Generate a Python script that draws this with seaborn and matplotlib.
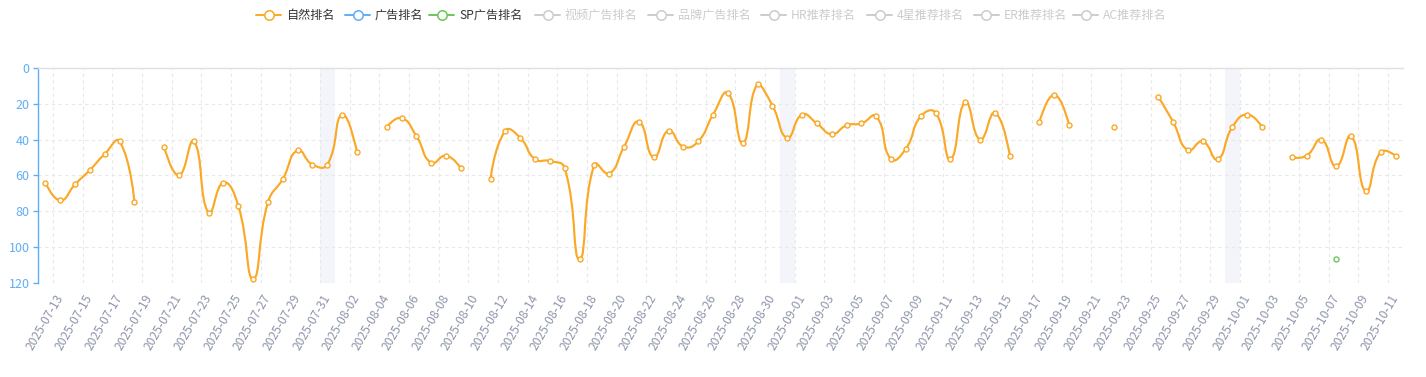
import numpy as np
import pandas as pd
import matplotlib
matplotlib.use("Agg")
import matplotlib.pyplot as plt
from matplotlib.path import Path
from matplotlib.patches import PathPatch
from matplotlib.lines import Line2D
import seaborn as sns

# ---------------- data ----------------
dates = pd.date_range("2025-07-12", "2025-10-11", freq="D").strftime("%Y-%m-%d").tolist()

natural_rank = [64, 74, 65, 57, 48, 41, 75, None,
                44, 60, 41, 81, 64, 77, 118, 75, 62, 46, 54, 54, 26, 47, None,
                33, 28, 38, 53, 49, 56, None,
                62, 35, 39, 51, 52, 56, 107, 54, 59, 44, 30, 50, 35, 44, 41, 26, 14, 42, 9, 21,
                39, 26, 31, 37, 32, 31, 27, 51, 45, 27, 25, 51, 19, 40, 25, 49, None,
                30, 15, 32, None, None, 33, None, None,
                16, 30, 46, 41, 51, 33, 26, 33, None,
                50, 49, 40, 55, 38, 69, 47, 49]

sp_dates = ["2025-10-07"]
sp_rank = [107]

band_dates = ["2025-07-31", "2025-08-31", "2025-09-30"]

legend_names = ["自然排名", "广告排名", "SP广告排名", "视频广告排名", "品牌广告排名",
                "HR推荐排名", "4星推荐排名", "ER推荐排名", "AC推荐排名"]
legend_active = [True, True, True, False, False, False, False, False, False]

y_ticks = [0, 20, 40, 60, 80, 100, 120]

# ---------------- style ----------------
ORANGE = "#fba826"
BLUE = "#5eaef5"
GREEN = "#6cc65a"
GREY = "#cccccc"
GRID = "#e8e8e8"
XLAB = "#8e95aa"

sns.set_theme(style="white")
plt.rcParams["font.family"] = ["Noto Sans CJK SC", "DejaVu Sans"]

W, H = 1426, 377
fig = plt.figure(figsize=(W / 100, H / 100), dpi=100)
left, right, top, bottom = 38, 1403, 68, 282.7
ax = fig.add_axes([left / W, 1 - bottom / H, (right - left) / W, (bottom - top) / H])

n = len(dates)
ax.set_xlim(-0.5, n - 0.5)
ax.set_ylim(y_ticks[-1], y_ticks[0])

sx = (right - left) / n
sy = (bottom - top) / (y_ticks[-1] - y_ticks[0])

# bands
for d in band_dates:
    i = dates.index(d)
    ax.axvspan(i - 0.5, i + 0.5, color="#f3f5fa", zorder=0, lw=0)

# grid
for yv in y_ticks[1:]:
    ax.axhline(yv, color=GRID, lw=0.8, ls=(0, (3, 3)), zorder=1)
for k in list(range(1, n, 2)) + [n]:
    ax.axvline(k - 0.5, color=GRID, lw=0.8, ls=(0, (3, 3)), zorder=1)


def echarts_smooth(xs, ys, bbox, smooth=0.5):
    P = np.column_stack([np.asarray(xs, float) * sx, np.asarray(ys, float) * sy])
    lo = np.array([bbox[0] * sx, bbox[2] * sy])
    hi = np.array([bbox[1] * sx, bbox[3] * sy])
    m = len(P)
    verts = [P[0]]
    codes = [Path.MOVETO]
    cp0 = P[0].copy()
    for i in range(1, m):
        p = P[i]
        prev = P[i - 1]
        v = None
        if i == m - 1:
            ncp = p.copy()
        else:
            nxt = P[i + 1]
            v = nxt - prev
            d0 = np.linalg.norm(p - prev)
            d1 = np.linalg.norm(p - nxt)
            r = d1 / (d0 + d1) if (d0 + d1) > 0 else 0.5
            ncp = p - v * smooth * (1 - r)
        verts += [np.clip(cp0, lo, hi), np.clip(ncp, lo, hi), p]
        codes += [Path.CURVE4] * 3
        if v is not None:
            cp0 = p + v * smooth * r
    verts = np.array(verts) / np.array([sx, sy])
    return Path(verts, codes)


df = pd.DataFrame({"idx": np.arange(n), "date": dates, "rank": natural_rank})
valid = df.dropna()
bbox = (valid["idx"].min(), valid["idx"].max(), valid["rank"].min(), valid["rank"].max())


def draw_segment(seg):
    if len(seg) > 1:
        path = echarts_smooth([s[0] for s in seg], [s[1] for s in seg], bbox)
        ax.add_patch(PathPatch(path, fc="none", ec=ORANGE, lw=1.55, zorder=3,
                               capstyle="round", joinstyle="round"))


seg = []
for i, v in enumerate(natural_rank):
    if v is None:
        draw_segment(seg)
        seg = []
    else:
        seg.append((i, v))
draw_segment(seg)

sns.scatterplot(data=valid, x="idx", y="rank", ax=ax, marker="o", s=13,
                facecolor="white", edgecolor=ORANGE, linewidth=1.0, zorder=4, legend=False)

sp_df = pd.DataFrame({"idx": [dates.index(d) for d in sp_dates], "rank": sp_rank})
sns.scatterplot(data=sp_df, x="idx", y="rank", ax=ax, marker="o", s=13,
                facecolor="white", edgecolor=GREEN, linewidth=1.0, zorder=4, legend=False)

# axes styling
ax.set_xlabel("")
ax.set_ylabel("")
for s in ["right", "bottom"]:
    ax.spines[s].set_visible(False)
ax.spines["top"].set_color("#e0e0e0")
ax.spines["top"].set_linewidth(1.0)
ax.spines["left"].set_color(BLUE)
ax.spines["left"].set_linewidth(1.0)

ax.set_yticks(y_ticks)
ax.set_yticklabels([str(t) for t in y_ticks])
ax.tick_params(axis="y", colors=BLUE, length=3.5, width=1, pad=2.5, labelsize=9, left=True)

xt = list(range(1, n, 2))
ax.set_xticks(xt)
ax.set_xticklabels([dates[i] for i in xt], rotation=60, ha="right", va="center",
                   rotation_mode="anchor", color=XLAB, fontsize=8.7)
ax.tick_params(axis="x", length=0, pad=9)
ax.grid(False)

# legend (echarts style, manual)
text_starts = [286, 375, 459, 565, 678, 791, 897, 1004, 1103]
colors = [ORANGE, BLUE, GREEN] + [GREY] * 6
ly = 1 - 15 / H
for name, x0, c, act in zip(legend_names, text_starts, colors, legend_active):
    cx = x0 - 17.5
    fig.add_artist(Line2D([(cx - 12.5) / W, (cx + 12.5) / W], [ly, ly], color=c, lw=1.4,
                          transform=fig.transFigure))
    fig.add_artist(Line2D([cx / W], [ly], color=c, marker="o", markersize=6.8,
                          markerfacecolor="white", markeredgewidth=1.1, lw=0,
                          transform=fig.transFigure))
    fig.text(x0 / W, ly, name, ha="left", va="center", fontsize=8.7,
             color="#333333" if act else GREY)

fig.savefig("out.png", dpi=100)
